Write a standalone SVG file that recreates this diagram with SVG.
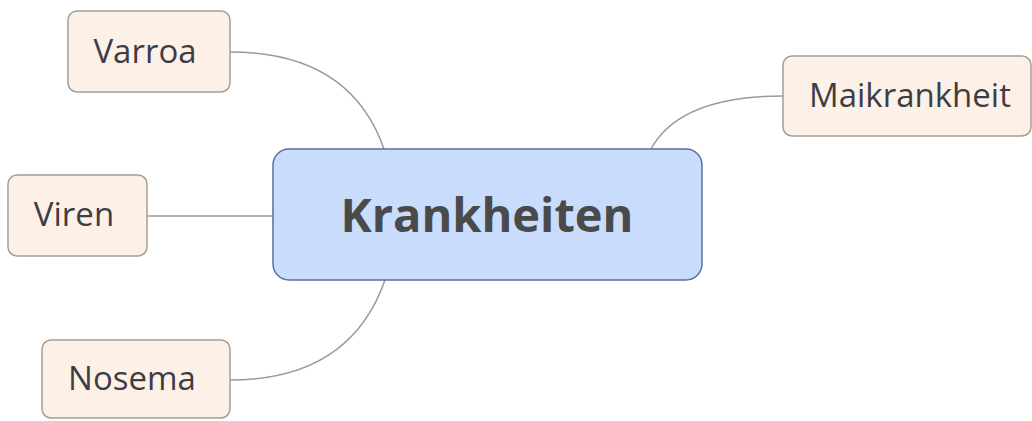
<svg xmlns="http://www.w3.org/2000/svg" width="1032" height="421" viewBox="0 0 1032 421">
<style>
.child rect{fill:#fdf1e7;stroke:#a59d97;stroke-width:1.5}
.child text{font-family:"Open Sans","Liberation Sans",sans-serif;font-size:33px;fill:#3d3d45;text-anchor:middle}
.root rect{fill:#c9dcfc;stroke:#5b6f99;stroke-width:1.5}
.root text{font-family:"Open Sans","Liberation Sans",sans-serif;font-size:47px;font-weight:bold;fill:#4a4a4a;text-anchor:middle}
.conn path{fill:none;stroke:#9a9a9a;stroke-width:1.5}
</style>
<rect width="1032" height="421" fill="#ffffff"/>
<g class="conn" id="connectors">
<path d="M230,52 Q350,52 384,149"/>
<path d="M783,96 Q680,96 651,149"/>
<path d="M147,216 L273,216"/>
<path d="M230,380 Q350,380 385,280"/>
</g>
<g class="root" id="node-krankheiten">
<rect x="273" y="149" width="429" height="131" rx="16"/>
<text x="487" y="232">Krankheiten</text>
</g>
<g class="child" id="node-varroa">
<rect x="68" y="11" width="162" height="81" rx="9"/>
<text x="145" y="63">Varroa</text>
</g>
<g class="child" id="node-maikrankheit">
<rect x="783" y="56" width="248" height="80" rx="9"/>
<text x="910" y="107">Maikrankheit</text>
</g>
<g class="child" id="node-viren">
<rect x="8" y="175" width="139" height="81" rx="9"/>
<text x="74" y="226">Viren</text>
</g>
<g class="child" id="node-nosema">
<rect x="42" y="340" width="188" height="78" rx="9"/>
<text x="132" y="390">Nosema</text>
</g>
</svg>
